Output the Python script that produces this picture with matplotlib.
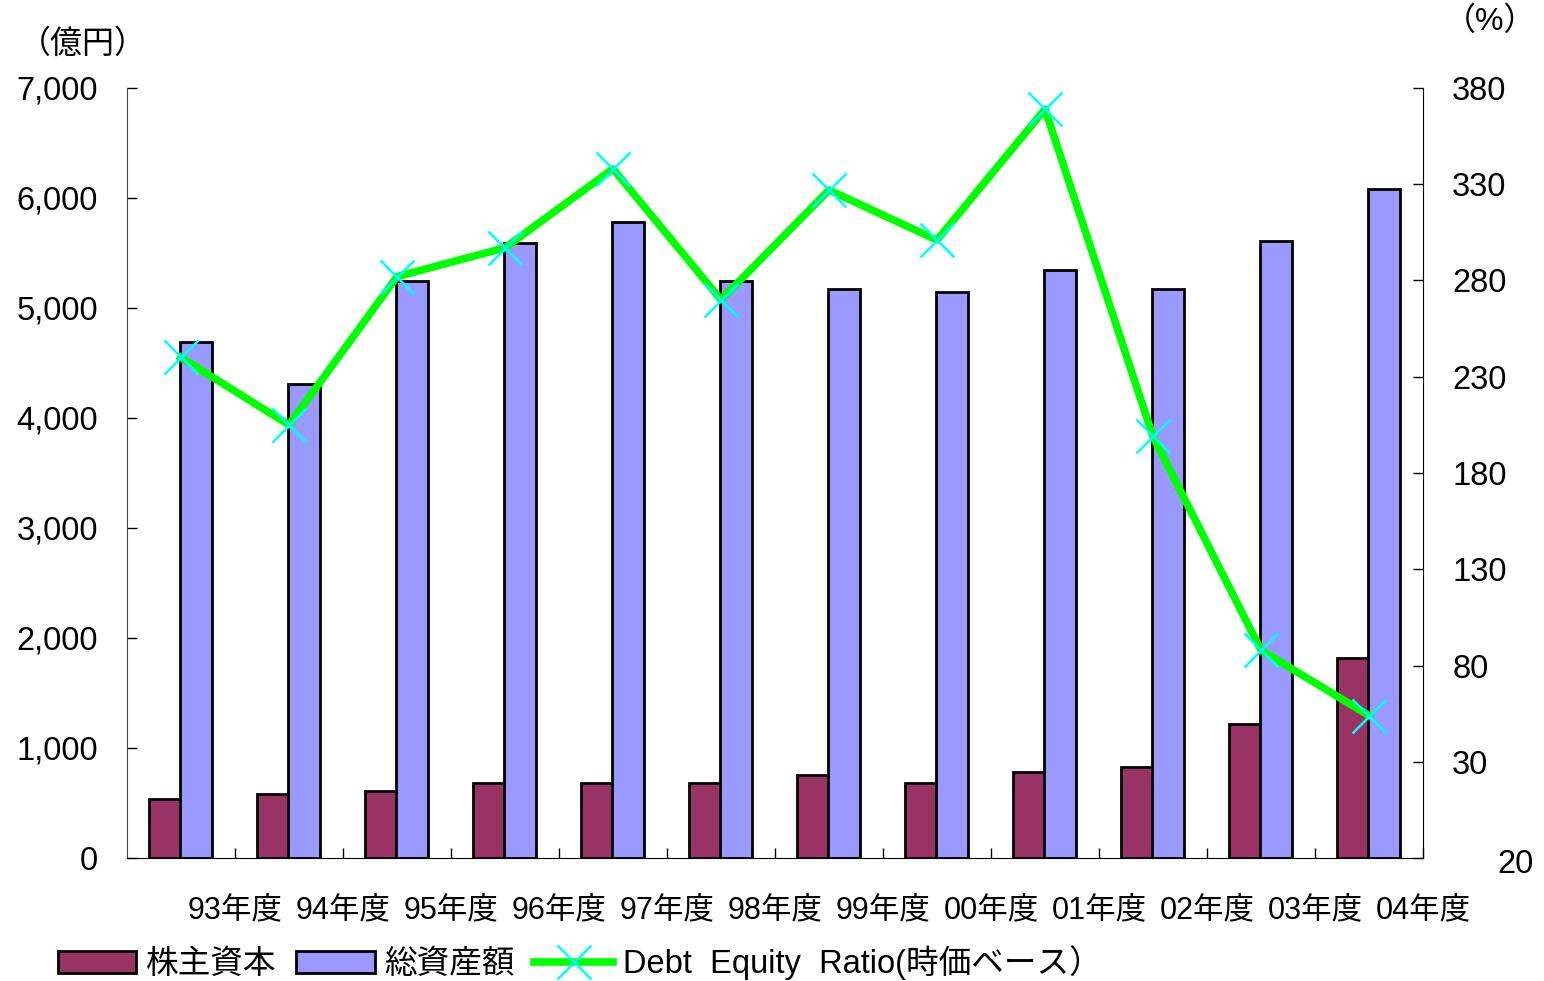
import matplotlib
matplotlib.use("Agg")
import matplotlib.pyplot as plt
import matplotlib.transforms as mtransforms
from matplotlib.lines import Line2D
from matplotlib.patches import Patch
import numpy as np

plt.rcParams['font.family'] = ['Liberation Sans', 'Noto Sans CJK JP', 'DejaVu Sans']

categories = ["93年度", "94年度", "95年度", "96年度", "97年度", "98年度",
              "99年度", "00年度", "01年度", "02年度", "03年度", "04年度"]
equity = [540, 580, 610, 680, 680, 680, 755, 680, 780, 830, 1220, 1820]
total_assets = [4690, 4310, 5245, 5590, 5780, 5245, 5170, 5145, 5345, 5170, 5610, 6080]
de_ratio = [240, 205, 282, 297, 338, 270, 327, 301, 369, 199, 88, 54]

left_ticks = [0, 1000, 2000, 3000, 4000, 5000, 6000, 7000]
right_ticks = [-20, 30, 80, 130, 180, 230, 280, 330, 380]
right_labels = ["20", "30", "80", "130", "180", "230", "280", "330", "380"]

W, H = 1544, 981
fig = plt.figure(figsize=(W / 100, H / 100), dpi=100)
ax = fig.add_axes([127 / W, 1 - 858 / H, (1423 - 127) / W, (858 - 88) / H])

x = np.arange(len(categories))
bw = 0.3
ax.bar(x - 0.15, equity, bw, color="#993366", edgecolor="black", linewidth=2.0, zorder=2)
ax.bar(x + 0.14, total_assets, bw, color="#9999FF", edgecolor="black", linewidth=2.0, zorder=2)

ax.set_xlim(-0.5, len(categories) - 0.5)
ax.set_ylim(0, 7000)
ax.set_yticks(left_ticks)
ax.set_yticklabels([f"{v:,}" for v in left_ticks], fontsize=23.5)
ax.tick_params(axis='y', direction='in', length=7, pad=21, width=1)
ax.set_xticks(x + 0.5)
ax.set_xticklabels(categories, fontsize=22)
ax.tick_params(axis='x', direction='in', length=7, pad=27, width=1)
for s in ['top', 'right']:
    ax.spines[s].set_visible(False)
ax.spines['left'].set_color('#444444')

ax2 = ax.twinx()
ax2.plot(x, de_ratio, color="#00FF00", linewidth=5.5, marker='x', markersize=24,
         markeredgecolor="#00FFFF", markeredgewidth=1.8, zorder=3)
ax2.set_ylim(-20, 380)
ax2.set_yticks(right_ticks)
ax2.set_yticklabels(right_labels, fontsize=23.5)
ax2.tick_params(axis='y', direction='in', length=7, pad=21, width=1)
for s in ['top', 'left', 'bottom']:
    ax2.spines[s].set_visible(False)
# offset the bottom right label as in the reference
lab = ax2.get_yticklabels()[0]
off = mtransforms.ScaledTranslation(45 / 100, -3 / 100, fig.dpi_scale_trans)
lab.set_transform(lab.get_transform() + off)

fig.text(83 / W, 1 - 45 / H, "（億円）", fontsize=23, ha='center', va='center')
fig.text(1490 / W, 1 - 22 / H, "（%）", fontsize=23, ha='center', va='center')

handles = [Patch(facecolor="#993366", edgecolor="black", linewidth=2.0),
           Patch(facecolor="#9999FF", edgecolor="black", linewidth=2.0),
           Line2D([], [], color="#00FF00", linewidth=5.5, marker='x', markersize=24,
                  markeredgecolor="#00FFFF", markeredgewidth=1.8)]
labels = ["株主資本", "総資産額", "Debt  Equity  Ratio(時価ベース）"]
fig.legend(handles, labels, loc='center left', bbox_to_anchor=(58 / W, 1 - 963 / H),
           ncol=3, frameon=False, fontsize=23.5, handlelength=2.4, handleheight=0.65,
           handletextpad=0.3, columnspacing=0.6, borderpad=0, borderaxespad=0)

fig.savefig("out.png", dpi=100)
